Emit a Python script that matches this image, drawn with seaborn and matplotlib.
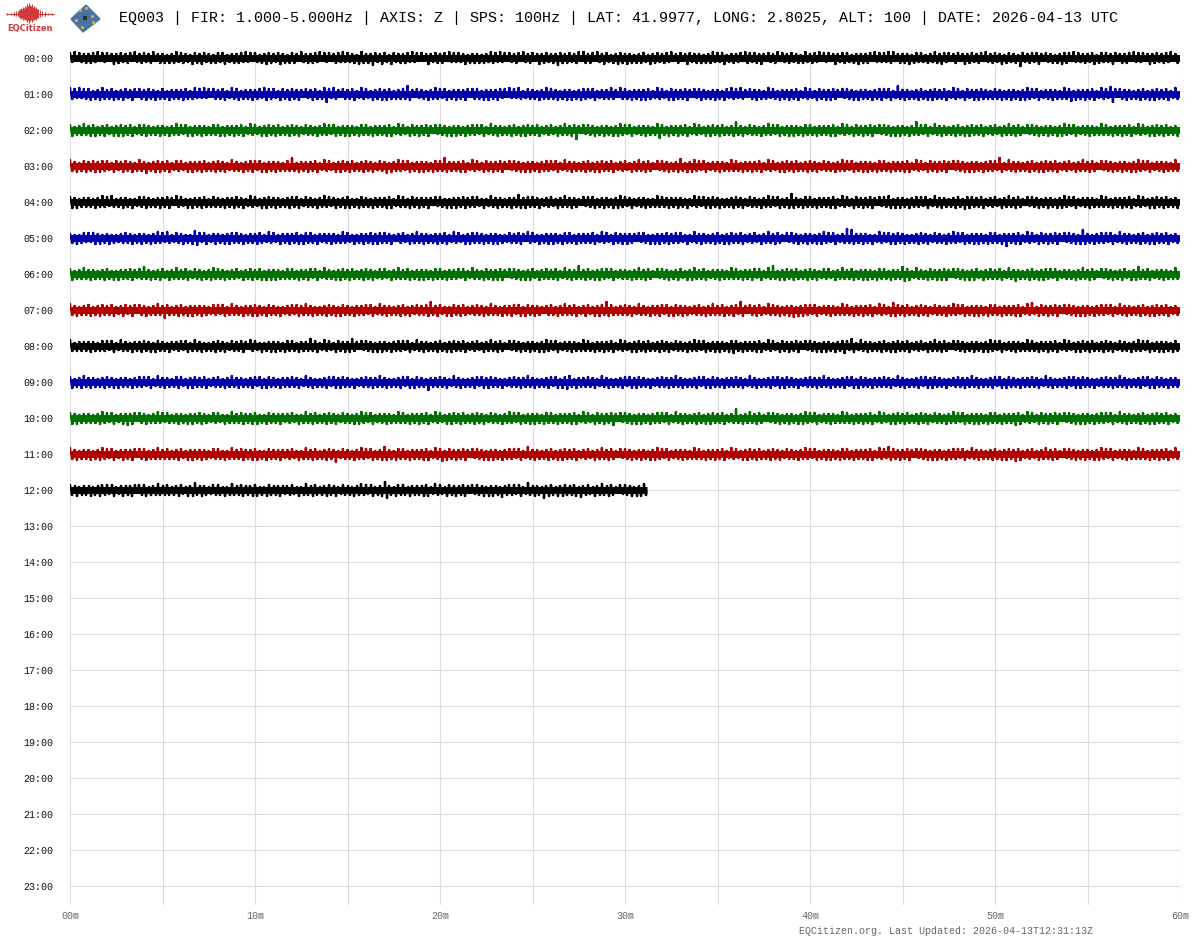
import matplotlib
matplotlib.use('Agg')
import matplotlib.pyplot as plt
import numpy as np
import pandas as pd
import seaborn as sns


def digits(text):
    return [int(c) for c in text.replace(' ', '')]


# Trace amplitudes in pixels. One group of 8 digits is one minute, even places
# swing up, odd places swing down. The big spikes sit where they are seen in the
# picture, the fine grain between them only estimates the band's roughness.
trace_00 = digits('54635445 45546354 53464554 45536445 54456345 45354564 55443655 46544535 54563445 45546453 '
                  '54354655 44564535 55436445 45546354 53455464 54453675 45475446 54365445 45546453 53464455 '
                  '45536454 54463545 45354465 54645354 45536445 53464554 45475545 54456385 45536446 54354655 '
                  '46453545 54364554 45546345 53465445 45354564 54563445 44536554 55464354 45635445 54453564 '
                  '45546354 53464455 54354645 45536454 54756345 45463554 54354465 46545345 53464554 45536445 '
                  '54463554 45385445 54564354 45354655 53645445 44563554 54465345 45536454 53464554 45546345')
trace_01 = digits('65546455 56354665 45563546 54465355 46554635 55364545 46553564 54645355 45563465 56354546 '
                  '45546655 54365546 55464354 46553568 54654355 45563465 54364556 46553545 55864354 45364565 '
                  '54563546 45465355 55364645 46545364 54653455 45364565 55463546 46354655 54563445 45654365 '
                  '55364546 46553465 54365645 45564354 56453546 45365465 54654355 46453564 55364546 45563465 '
                  '54365546 46554354 55463645 45364556 54563485 46453546 55364655 45563465 54365446 46554535 '
                  '55463546 45364665 54563445 46453565 57364546 45563465 54785355 46453546 55364655 45563465')
trace_02 = digits('56354565 46563546 54364656 45563455 56453546 45364565 54563645 46453555 56364546 45563465 '
                  '54364655 46553546 55463455 45364565 54563546 46453655 55364545 46563465 54365546 45564354 '
                  '55463646 45364555 54563465 46453546 55364655 45563445 54364565 46594354 55463546 45364665 '
                  '54563445 46453568 55364546 45563465 54364655 46553546 85463455 45364565 54563546 46453655 '
                  '55364545 46563465 54365546 45564354 55463646 45364585 54563465 46453546 55364655 45563445 '
                  '54364565 46553354 55463546 45364665 54563445 46453565 55364546 45563465 54364655 46553546')
trace_03 = digits('65463556 45564655 54365446 55463565 47354656 45563455 54364645 46553546 55463465 45364556 '
                  '54563645 46453555 85364546 45563465 54364655 46553546 55463455 47364565 54563546 46453655 '
                  '55864545 46563465 54365546 45564354 55463646 45364555 54563465 46453546 55364655 45563445 '
                  '54364565 46553354 55463546 75364665 54563445 46453565 55364546 45563465 54364655 46553546 '
                  '55463455 45364565 54563546 46453655 55364545 46563465 54365546 45564354 55463646 45364555 '
                  '54863465 46453546 55364655 45563445 54364565 46553354 55463546 45364665 54563445 46453565')
trace_04 = digits('56463545 45364565 54653546 45363455 56453546 45564365 54363645 46553555 45364546 55463465 '
                  '54364655 46453546 55563455 45364565 54463546 56353655 45364545 46563465 55365546 45464354 '
                  '55363646 45564555 54363465 46453546 45764655 55463445 54364565 46453354 55563546 45364665 '
                  '54463445 46353565 55464546 45363465 54564655 46353546 55463455 45364565 54563546 86453655 '
                  '55364545 46563465 54365546 45564354 55663646 45364555 54563465 46453546 55375655 45563445 '
                  '54364565 46553354 55463546 45364665 54563445 46453565 55364546 45563465 54364655 46553546')
trace_05 = digits('45363554 54564635 46353445 55463546 45364565 54653455 46353677 54563446 45364655 55463545 '
                  '46553465 54364546 45563655 55364445 46453565 54363546 45564655 55463345 54364565 46453546 '
                  '45563465 54364655 55463546 46353455 45564365 54363546 46453655 55364545 45563465 54365546 '
                  '46454354 55363646 45564555 54363465 46453546 55364655 45563445 54364565 46553354 55463546 '
                  '45364665 54563445 95864546 45363465 54564655 46353546 55463455 45364565 54563546 46453655 '
                  '55364845 46563465 54365546 45564354 55463686 45364555 54563465 46453546 55364655 45563445')
trace_06 = digits('56354565 46453546 55363645 45564455 75463546 54364565 45563455 46354665 55463545 54364556 '
                  '45563646 46453555 55364546 54563465 45364655 46553546 55463455 54364565 45563546 46453655 '
                  '55364545 54563465 45365546 46564354 55463646 54364555 45563465 46458546 55364655 54563445 '
                  '45364565 46553354 55463546 54364665 45563445 46453565 55364546 54563465 85364655 46553546 '
                  '55463455 54364565 45563546 46453655 55364545 77563465 45365546 46564354 55463646 54364555 '
                  '45563465 47453546 55364655 54563445 45364565 46553354 55463546 54364675 45563445 46453565')
trace_07 = digits('65463545 56354655 45563446 54465355 46354565 48553546 55364645 46453455 54563565 45364546 '
                  '56453655 45363445 54564565 46353546 55463655 45364545 54563465 46453546 55364455 45568546 '
                  '54363655 46553445 55463565 45364546 54563655 46453345 55364565 45563446 54364655 86553545 '
                  '55463465 45364546 54563655 46453445 55364565 45563546 54864355 46553465 55463546 47364655 '
                  '54563445 46453565 55364546 45563465 54367655 46553546 55463455 45364565 54563546 46453655 '
                  '55364545 46563465 74365546 45564354 55463646 45364555 54563465 46453546 55364655 45563445')
trace_08 = digits('65354545 46453555 54563465 45364546 55463655 45364445 54563565 46353546 55463455 45564365 '
                  '54363546 46453655 55364545 75563465 54365546 46754354 55463646 45364555 54563465 46453546 '
                  '55364655 45563445 54364565 46553354 55463546 45364665 54563445 46453565 55364546 45563465 '
                  '54364655 46553546 55463455 45364565 54563546 46453657 55364545 46563465 54365546 45564354 '
                  '55463646 45364557 54763465 46453546 55364655 45563445 54364565 46553354 55463546 45364665 '
                  '54563445 46453565 55364546 45563465 54364655 46553546 55463455 45364565 54563546 46453655')
trace_09 = digits('56354665 46453546 55463645 45364555 54563465 46453556 54364655 45563445 55364565 46453546 '
                  '54563655 45364545 55463465 46353546 54564655 45363445 55464565 46353546 54563655 45384545 '
                  '55463465 46353546 54564655 45363445 55464565 46353546 54563657 65364545 55463465 46353546 '
                  '54564655 45363445 55464565 46353546 54563655 45364545 55463465 46353546 54564655 45363445 '
                  '55464565 46353546 54563655 45364545 55463465 46353546 54564655 45363445 55464565 46353546 '
                  '54563655 45364545 55463465 46353546 54564655 45363445 55464565 46353546 54563655 45364545')
trace_10 = digits('56463545 45354665 54563446 47465355 46354565 54553546 45364645 56453455 54363565 45564546 '
                  '56353655 45464445 54363565 46553546 55463455 45364665 54563445 46453565 55364546 45563465 '
                  '54364655 46553546 55463455 45364565 54563546 46453655 55364545 46563465 54365546 45574354 '
                  '55463646 45364555 54563465 46453546 55364655 45563445 95364565 46553354 55463546 45364665 '
                  '54563445 46453565 55364546 45563465 54364655 46553546 55463455 45364565 54563546 46453655 '
                  '55364545 47563465 54365546 45564354 55463646 45364555 54563465 46453546 55364655 45563445')
trace_11 = digits('65463545 46354665 54563446 45465355 56354565 45553546 54364645 46453455 55363565 45564546 '
                  '56353655 45464445 54363565 46553546 55483455 45364565 54563546 76453655 55364545 46563465 '
                  '57365546 45564354 55463646 45364555 54563475 46453546 55364655 45563445 54364565 46553354 '
                  '55463546 45364665 54563445 46453565 55364546 45563465 54364655 46553546 55463455 45364565 '
                  '54563546 46453655 55364545 46563465 54765546 45564354 55463646 45364555 54563465 46453546 '
                  '55364655 47563445 54364565 46553354 55463546 45364665 54563445 46453565 55364546 45563465')
trace_12 = digits('55463545 46354655 54563446 45465355 56354565 45553546 54364675 46453455 55363565 45564546 '
                  '56353655 45464445 54363565 46553546 55463455 45364565 54563546 88453655 55364545 46563465 '
                  '54365546 45564354 55463646 45374555 54563475 46453846 55364655 45563745 54364565 46553354 '
                  '55463646 65')

trace_rows = [trace_00, trace_01, trace_02, trace_03, trace_04, trace_05, trace_06,
              trace_07, trace_08, trace_09, trace_10, trace_11, trace_12]
trace_end = [60, 60, 60, 60, 60, 60, 60, 60, 60, 60, 60, 60, 31.2]
trace_colors = ['#000000', '#0000aa', '#007000', '#b00000']

hour_labels = ['%02d:00' % h for h in range(24)]
minute_ticks = [0, 10, 20, 30, 40, 50, 60]
minute_labels = ['00m', '10m', '20m', '30m', '40m', '50m', '60m']
minor_ticks = [5, 15, 25, 35, 45, 55]

title = 'EQ003 | FIR: 1.000-5.000Hz | AXIS: Z | SPS: 100Hz | LAT: 41.9977, LONG: 2.8025, ALT: 100 | DATE: 2026-04-13 UTC'
footer = 'EQCitizen.org. Last Updated: 2026-04-13T12:31:13Z'

# small logo wave, in pixels
logo_x = [7, 11, 14, 16, 18, 19, 20, 21, 22, 23, 24, 25, 26, 27, 28, 29, 30, 31, 32, 33, 34, 35, 36, 37, 38, 40, 42, 45, 48, 52]
logo_h = [1, 1, 2, 3, 3, 4, 5, 6, 5, 7, 6, 8, 7, 10, 8, 11, 9, 8, 10, 7, 8, 6, 7, 5, 5, 4, 3, 2, 1, 1]
device_x = [86, 100, 83, 71]
device_y = [5, 19, 32, 19]
pin_x = [80, 86, 92, 76, 82, 93]
pin_y = [10, 8, 16, 20, 27, 22]

PX = 36.0  # pixels per hour row
SAMPLE = 1 / 8  # minutes per digit

sns.set_theme(style='white')
plt.rcParams['font.family'] = ['Liberation Mono', 'DejaVu Sans Mono']

fig = plt.figure(figsize=(12, 9.4), dpi=100)
ax = fig.add_axes([70 / 1200, 1 - 905 / 940, 1110 / 1200, (905 - 51) / 940])

for hour, values in enumerate(trace_rows):
    color = trace_colors[hour % 4]
    amp = np.array(values)
    t = np.arange(len(amp)) * SAMPLE
    sign = np.where(np.arange(len(amp)) % 2 == 0, -1, 1)
    # each sample becomes a vertical stroke away from the base line
    spikes = pd.DataFrame({
        'minute': np.repeat(t, 3),
        'y': np.ravel(np.column_stack([np.full(len(t), hour), hour + sign * amp / PX, np.full(len(t), hour)])),
    })
    sns.lineplot(data=spikes, x='minute', y='y', estimator=None, sort=False, color=color,
                 linewidth=1.7, ax=ax, zorder=3, legend=False)
    base = pd.DataFrame({'minute': [0, trace_end[hour]], 'y': [hour, hour]})
    sns.lineplot(data=base, x='minute', y='y', estimator=None, sort=False, color=color,
                 linewidth=5.0, solid_capstyle='butt', ax=ax, zorder=3, legend=False)

ax.set_xlim(0, 60)
ax.set_ylim(23 + 19 / PX, -7 / PX)
ax.set_xticks(minute_ticks)
ax.set_xticklabels(minute_labels, fontsize=7.2, color='#666666')
ax.set_xticks(minor_ticks, minor=True)
ax.set_yticks(range(24))
ax.set_yticklabels(hour_labels, fontsize=7.2, color='#111111')
ax.tick_params(axis='both', which='both', length=0)
ax.tick_params(axis='x', pad=4)
ax.tick_params(axis='y', pad=12)
ax.grid(True, which='both', color='#dcdcdc', linewidth=0.8)
ax.set_axisbelow(True)
ax.set_xlabel('')
ax.set_ylabel('')
sns.despine(ax=ax, left=True, bottom=True)

# header and footer live on a full-figure overlay in pixel coordinates
top = fig.add_axes([0, 0, 1, 1], facecolor='none')
top.set_xlim(0, 1200)
top.set_ylim(940, 0)
top.axis('off')
top.text(119, 18, title, fontsize=10.8, color='#000000', va='center', ha='left')
top.text(799, 931, footer, fontsize=7.2, color='#666666', va='center', ha='left')

top.vlines(logo_x, [14 - h for h in logo_h], [14 + h * 0.8 for h in logo_h], color='#cf3a3a', linewidth=0.8)
top.plot([6, 54], [14, 14], color='#cf3a3a', linewidth=0.8)
top.text(30, 29, 'EQCitizen', fontsize=6, color='#cf3a3a', fontweight='bold', ha='center', va='center',
         family='DejaVu Sans')
top.fill(device_x, device_y, color='#4a749f')
top.scatter(pin_x, pin_y, s=5, color='#d8b04a', linewidths=0)
top.scatter([85], [18], s=12, color='#22303c', marker='s', linewidths=0)

fig.savefig('out.png', dpi=100, facecolor='white')
